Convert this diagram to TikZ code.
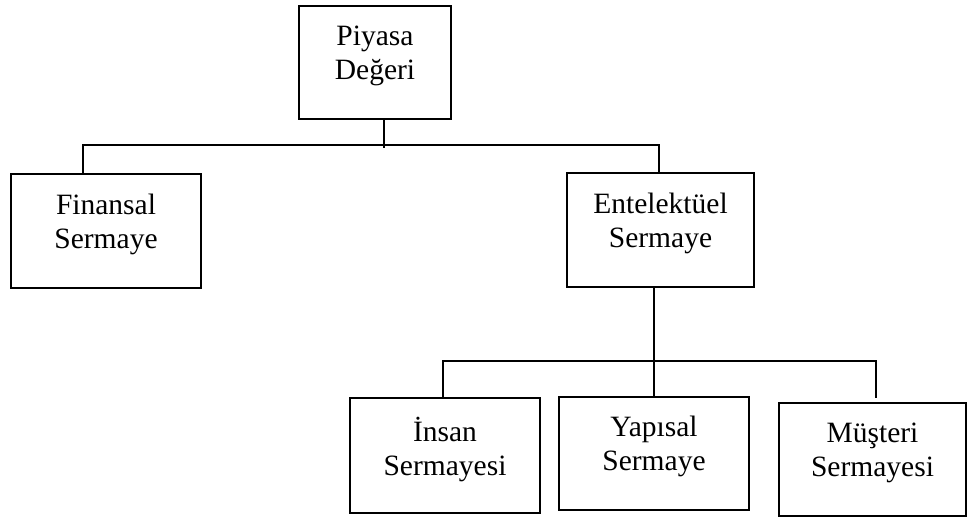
\documentclass[tikz,border=0pt]{standalone}
\usepackage{fontspec}
\setmainfont{Liberation Serif}
\usetikzlibrary{positioning}

\begin{document}
\begin{tikzpicture}[x=1pt, y=-1pt, line width=1.7pt,
  every node/.style={font=\fontsize{29.5}{34}\selectfont},
  kutu/.style={draw, rectangle, inner sep=0pt, line width=1.7pt},
  yazi/.style={align=center, inner sep=0pt}]
  \useasboundingbox (0,0) rectangle (969,517);

  % Top box
  \node[kutu, minimum width=152, minimum height=113] (piyasa) at (375,62.5) {};
  \node[yazi] (piyasaT) at ([yshift=7pt]piyasa.center) {Piyasa\\Değeri};

  % Second level
  \node[kutu, minimum width=190, minimum height=114] (finansal) at (106,231) {};
  \node[yazi] (finansalT) at ([yshift=7pt]finansal.center) {Finansal\\Sermaye};

  \node[kutu, minimum width=187, minimum height=114] (entel) at (660.5,230) {};
  \node[yazi] (entelT) at ([yshift=7pt]entel.center) {Entelektüel\\Sermaye};

  % Third level
  \node[kutu, minimum width=190, minimum height=115] (insan) at (445,455.5) {};
  \node[yazi] (insanT) at ([yshift=6pt]insan.center) {İnsan\\Sermayesi};

  \node[kutu, minimum width=190, minimum height=113] (yapisal) at (654,453.5) {};
  \node[yazi] (yapisalT) at ([yshift=7pt]yapisal.center) {Yapısal\\Sermaye};

  \node[kutu, minimum width=187, minimum height=113] (musteri) at (872.5,459.5) {};
  \node[yazi] (musteriT) at ([yshift=7pt]musteri.center) {Müşteri\\Sermayesi};

  % Upper connectors
  \coordinate (b0) at (384,148);
  \coordinate (bL) at (83,145);
  \coordinate (bR) at (659,145);
  \draw (piyasa.south -| b0) -- (b0);
  \draw (finansal.north -| bL) -- (bL) -- (bR) -- (entel.north -| bR);

  % Lower connectors
  \coordinate (cL) at (443,361);
  \coordinate (cR) at (876,361);
  \coordinate (cE) at (876,398);
  \draw (insan.north -| cL) -- (cL) -- (cR) -- (cE);
  \draw (entel.south -| yapisal.north) -- (yapisal.north);
\end{tikzpicture}
\end{document}
